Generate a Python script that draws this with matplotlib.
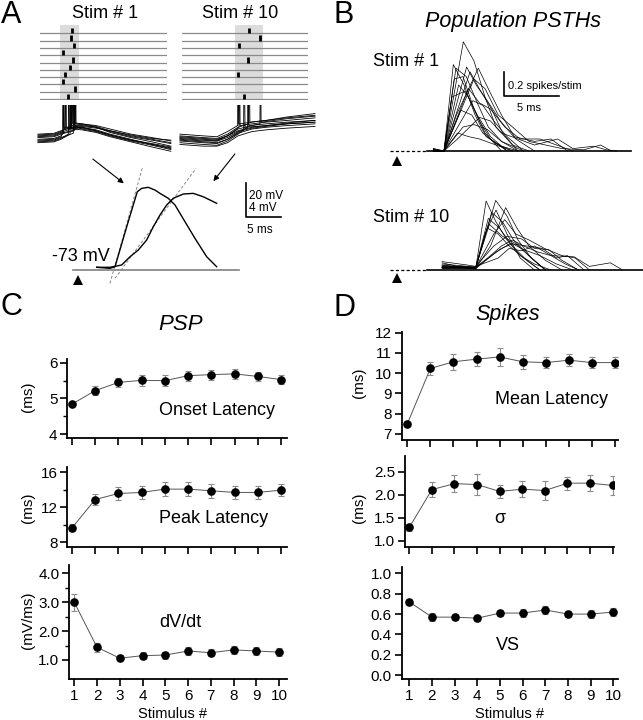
import matplotlib
matplotlib.use("Agg")
from matplotlib import pyplot as plt

plt.rcParams['font.family'] = ['Liberation Sans', 'DejaVu Sans']

W, H = 643, 720

# ---------------- panel C / D : summary vs stimulus number ----------------
stim = [1, 2, 3, 4, 5, 6, 7, 8, 9, 10]
onset_lat = [4.84, 5.22, 5.45, 5.51, 5.50, 5.64, 5.67, 5.69, 5.62, 5.53]
onset_err = [0.06, 0.12, 0.13, 0.16, 0.16, 0.14, 0.14, 0.13, 0.12, 0.12]
peak_lat = [9.62, 12.88, 13.57, 13.69, 14.07, 14.07, 13.88, 13.69, 13.69, 13.95]
peak_err = [0.4, 0.6, 0.7, 0.7, 0.8, 0.8, 0.8, 0.7, 0.7, 0.7]
dvdt = [3.0, 1.44, 1.06, 1.15, 1.17, 1.31, 1.25, 1.35, 1.31, 1.27]
dvdt_err = [0.3, 0.15, 0.1, 0.12, 0.12, 0.13, 0.13, 0.14, 0.15, 0.15]
mean_lat = [7.49, 10.23, 10.56, 10.69, 10.80, 10.56, 10.52, 10.64, 10.52, 10.52]
mean_err = [0.1, 0.33, 0.4, 0.35, 0.43, 0.35, 0.27, 0.3, 0.27, 0.27]
sigma = [1.29, 2.11, 2.24, 2.22, 2.07, 2.12, 2.09, 2.25, 2.25, 2.20]
sigma_err = [0.08, 0.16, 0.18, 0.22, 0.15, 0.17, 0.2, 0.14, 0.18, 0.21]
vs = [0.72, 0.57, 0.57, 0.56, 0.61, 0.61, 0.64, 0.60, 0.60, 0.62]
vs_err = [0.03, 0.04, 0.03, 0.03, 0.03, 0.04, 0.04, 0.03, 0.04, 0.04]

# ---------------- panel A : rasters (spike times, ms) ----------------
raster1_rows = [1, 2, 3, 4, 5, 6, 7, 8, 9, 10]
raster1_t = [4.52, 4.38, 4.86, 3.24, 4.76, 4.29, 3.62, 3.33, 5.0, 4.05]
raster10_rows = [1, 2, 3, 5, 7, 10]
raster10_t = [9.52, 11.14, 8.14, 9.38, 7.95, 8.81]

# raw membrane traces (t ms, Vm mV)
left_traces = [
    ([-0.3, 2, 3, 4.52, 4.57, 4.67, 6, 8, 10, 13, 16, 18.7], [-69, -68.5, -67, -65, 0, -63, -63, -64, -66, -69, -71, -73]),
    ([-0.3, 2, 3, 4.38, 4.43, 4.53, 6, 8, 10, 13, 16, 18.7], [-70, -69.5, -68, -66, 0, -64, -64, -65, -67.5, -70.5, -72.5, -74.5]),
    ([-0.3, 2, 3, 4.86, 4.91, 5.01, 6, 8, 10, 13, 16, 18.7], [-71, -70.5, -69, -67, 0, -63, -63.5, -65, -68, -71, -73.5, -76]),
    ([-0.3, 2, 3, 3.24, 3.29, 3.39, 6, 8, 10, 13, 16, 18.7], [-72, -71.5, -70, -68, 0, -65, -65, -66.5, -69, -72, -75, -77]),
    ([-0.3, 2, 3, 4.76, 4.81, 4.91, 6, 8, 10, 13, 16, 18.7], [-73, -72.5, -71, -68.5, 0, -64, -66, -67.5, -70, -73, -75.5, -78]),
    ([-0.3, 2, 3, 4.29, 4.34, 4.44, 6, 8, 10, 13, 16, 18.7], [-74, -73.5, -72, -69, 0, -66, -66.5, -68, -70.5, -73.5, -76.5, -79]),
    ([-0.3, 2, 3, 3.62, 3.67, 3.77, 6, 8, 10, 13, 16, 18.7], [-69.5, -69, -67.5, -66, 0, -65, -64.5, -65.5, -67, -69.5, -71.5, -72.5]),
    ([-0.3, 2, 3, 3.33, 3.38, 3.48, 6, 8, 10, 13, 16, 18.7], [-72.5, -72, -70.5, -68, 0, -66, -65.5, -67, -69.5, -72.5, -74.5, -76.5]),
    ([-0.3, 2, 3, 5.0, 5.05, 5.15, 6, 8, 10, 13, 16, 18.7], [-70.5, -70, -68.5, -66.5, 0, -62.5, -63, -64.5, -67, -70, -72, -74]),
    ([-0.3, 2, 3, 4.05, 4.1, 4.2, 6, 8, 10, 13, 16, 18.7], [-73.5, -73, -71.5, -69, 0, -65.5, -65, -67, -69.5, -72.5, -75, -77.5]),
]
right_traces = [
    ([-0.3, 3, 5, 6.5, 8, 9.52, 9.57, 9.7, 12, 15, 19], [-70, -71, -71.5, -69, -65, -63, 0, -62, -61, -59, -57]),
    ([-0.3, 3, 5, 6.5, 8, 10, 11.14, 11.19, 11.3, 15, 19], [-71, -72, -72.5, -70, -66, -64, -63, 0, -62, -60, -58.5]),
    ([-0.3, 3, 5, 6.5, 8.14, 8.19, 8.3, 10, 12, 15, 19], [-72, -73, -73, -70, -65, 0, -64, -63, -62, -61, -59.5]),
    ([-0.3, 3, 5, 6.5, 8, 9.38, 9.43, 9.55, 12, 15, 19], [-73, -74, -74.5, -72, -68, -65, 0, -64, -63, -62, -61]),
    ([-0.3, 3, 5, 6.5, 7.95, 8.0, 8.1, 10, 12, 15, 19], [-69, -70, -70.5, -67.5, -64, 0, -63, -62, -61, -59.5, -58]),
    ([-0.3, 3, 5, 6.5, 8, 8.81, 8.86, 9, 12, 15, 19], [-74, -75, -75.5, -73, -69, -66.5, 0, -65, -64, -63, -62]),
    ([-0.3, 3, 5, 6.5, 8, 10, 12, 15, 19], [-70.5, -71.5, -72, -70, -67, -65, -64, -62.5, -61]),
    ([-0.3, 3, 5, 6.5, 8, 10, 12, 15, 19], [-72.5, -73.5, -74, -72, -68.5, -66, -65, -64, -63]),
    ([-0.3, 3, 5, 6.5, 8, 10, 12, 15, 19], [-75, -76, -76, -74, -70, -67.5, -66.5, -65.5, -64.5]),
    ([-0.3, 3, 5, 6.5, 8, 10, 12, 15, 19], [-71.5, -72.5, -73, -71, -67.5, -65.5, -64.5, -63, -62]),
]

# averaged PSPs (t ms from stimulus, mV above -73 mV)
psp1_t = [2.67, 4.57, 5.29, 6.96, 8.47, 9.1, 10.04, 11.0, 11.71, 12.9, 13.86, 15.29, 16.71, 18.39, 19.81]
psp1_v = [0.32, 0.2, 0.39, 5.09, 9.21, 9.61, 9.73, 9.41, 9.02, 8.44, 7.65, 5.68, 3.73, 1.56, 0.39]
psp10_t = [2.67, 4.57, 6.24, 7.43, 8.61, 9.81, 10.76, 11.71, 12.67, 13.61, 15.04, 16.47, 17.9, 19.81]
psp10_v = [0.32, 0.32, 0.59, 1.56, 2.35, 3.53, 5.09, 6.47, 7.65, 8.44, 8.94, 9.02, 8.62, 7.85]
slope1 = ([4.57, 9.24], [-1.57, 12.15])
slope10 = ([5.29, 16.86], [-0.98, 11.96])

# ---------------- panel B : population PSTHs (t ms, spikes/stim) ----------------
psth1 = [
    ([3.3, 4.27, 6.03, 7.0, 8.0, 9.0, 10.5, 12], [0.01, 0, 0.91, 0.75, 0.45, 0.2, 0.05, 0]),
    ([3.3, 4.27, 5.12, 6.1, 7.1, 8.1, 9.5, 11], [0, 0, 0.72, 0.55, 0.3, 0.12, 0.04, 0]),
    ([3.3, 4.27, 5.36, 6.3, 7.3, 8.3, 9.5, 11.5], [0.02, 0, 0.69, 0.62, 0.4, 0.2, 0.08, 0]),
    ([3.3, 4.27, 6.33, 7.2, 8.2, 9.4, 10.6, 12.5, 14, 15.5], [0, 0, 0.70, 0.55, 0.42, 0.25, 0.12, 0.08, 0.1, 0]),
    ([3.3, 4.27, 6.64, 7.6, 8.6, 9.6, 11], [0.01, 0, 0.66, 0.5, 0.35, 0.15, 0]),
    ([3.3, 4.27, 5.4, 7.39, 8.4, 9.5, 10.8, 12.5], [0, 0, 0.3, 0.69, 0.5, 0.3, 0.1, 0]),
    ([3.3, 4.27, 5.6, 6.5, 7.5, 8.5, 10], [0, 0, 0.55, 0.45, 0.25, 0.1, 0]),
    ([3.3, 4.27, 6.5, 7.5, 8.5, 9.8, 11.2, 13, 14.5, 16], [0.02, 0, 0.52, 0.4, 0.35, 0.2, 0.1, 0.1, 0.05, 0]),
    ([3.3, 4.27, 6.9, 7.8, 8.8, 10, 11.5], [0, 0, 0.42, 0.38, 0.25, 0.12, 0]),
    ([3.3, 4.27, 5.8, 6.8, 7.8, 9.0, 10.5], [0.01, 0, 0.34, 0.3, 0.15, 0.06, 0]),
    ([3.3, 4.27, 5.5, 7.5, 8.5, 9.5, 11, 12.5, 14.6, 16, 17.9, 19, 20], [0, 0, 0.1, 0.28, 0.25, 0.15, 0.1, 0.05, 0.1, 0.02, 0.04, 0.01, 0]),
    ([3.3, 4.27, 5.0, 6.2, 7.3, 8.5, 10], [0, 0, 0.45, 0.5, 0.3, 0.12, 0]),
    ([3.3, 4.27, 6.0, 7.0, 8.2, 9.5, 11], [0, 0, 0.2, 0.22, 0.18, 0.08, 0]),
    ([3.3, 4.27, 5.5, 6.5, 7.5, 9, 10.5], [0.01, 0, 0.15, 0.12, 0.1, 0.05, 0]),
    ([3.3, 4.27, 7.0, 8.0, 9.2, 10.5, 12, 13.5, 15, 17, 18.5, 19.5], [0, 0, 0.6, 0.52, 0.3, 0.2, 0.08, 0.05, 0.02, 0.01, 0.05, 0]),
    ([3.3, 4.27, 5.2, 6.0, 7.0, 8.0, 9.5], [0, 0, 0.6, 0.62, 0.35, 0.15, 0]),
]
psth10 = [
    ([4.1, 5.0, 6.0, 7.15, 8.1, 9.0, 10.0, 11.2, 12.5, 14], [0.02, 0.03, 0.02, 0.01, 0.575, 0.4, 0.25, 0.12, 0.05, 0]),
    ([4.1, 5.5, 7.15, 8.97, 10.0, 11.0, 12.2, 13.5], [0.04, 0.03, 0.02, 0.58, 0.45, 0.25, 0.1, 0]),
    ([4.1, 5.5, 7.15, 8.5, 9.88, 10.9, 12.0, 13.5, 15], [0.06, 0.03, 0.01, 0.2, 0.52, 0.35, 0.2, 0.08, 0]),
    ([4.1, 6.0, 7.15, 8.6, 9.6, 10.6, 12, 13.5], [0.01, 0.02, 0.01, 0.48, 0.4, 0.25, 0.12, 0]),
    ([4.1, 6.0, 7.15, 8.3, 9.3, 10.5, 11.8, 13], [0.03, 0.02, 0.02, 0.43, 0.35, 0.2, 0.08, 0]),
    ([4.1, 6.0, 7.15, 8.8, 9.8, 10.8, 12.0, 13.4, 15, 16.2, 17.5], [0.02, 0.01, 0.02, 0.3, 0.42, 0.3, 0.25, 0.18, 0.12, 0.1, 0]),
    ([4.1, 6.5, 7.15, 8.8, 10.0, 11.3, 12.5, 13.8, 15.0, 16.5], [0.07, 0.04, 0.03, 0.2, 0.28, 0.26, 0.18, 0.17, 0.08, 0]),
    ([4.1, 5.5, 7.15, 9.0, 10.3, 11.8, 13.2, 14.5, 15.5, 17], [0.03, 0.02, 0.01, 0.15, 0.22, 0.2, 0.18, 0.1, 0.12, 0]),
    ([4.1, 6.0, 7.15, 8.5, 9.5, 10.5, 11.5, 12.8, 14.0, 16.1, 17.5, 19.4, 20.5], [0.01, 0.03, 0.02, 0.12, 0.2, 0.25, 0.2, 0.15, 0.12, 0.11, 0.03, 0.06, 0]),
    ([4.1, 6.0, 7.15, 8.2, 9.2, 10.2, 11.5, 13], [0.02, 0.01, 0.02, 0.35, 0.3, 0.2, 0.1, 0]),
    ([4.1, 6.5, 7.15, 9.5, 10.5, 11.5, 13, 14.5, 16], [0.05, 0.03, 0.02, 0.18, 0.22, 0.17, 0.12, 0.05, 0]),
    ([4.1, 6.0, 7.15, 8.0, 9.0, 10.0, 11.2, 12.5], [0.02, 0.02, 0.01, 0.3, 0.5, 0.3, 0.1, 0]),
    ([4.1, 6.0, 7.15, 9.2, 10.2, 11.3, 12.5, 14, 15.3, 16.5], [0.04, 0.02, 0.03, 0.1, 0.18, 0.16, 0.2, 0.12, 0.05, 0]),
    ([4.1, 5.5, 7.15, 8.4, 9.6, 10.8, 12.2, 13.5], [0.02, 0.03, 0.02, 0.38, 0.28, 0.22, 0.1, 0]),
]

fig = plt.figure(figsize=(W / 100, H / 100), dpi=100)


def px_axes(x0, y0, x1, y1):
    # axes placed by pixel box (top-left origin)
    ax = fig.add_axes([x0 / W, 1 - y1 / H, (x1 - x0) / W, (y1 - y0) / H])
    ax.patch.set_alpha(0)
    return ax


def ftext(x, y, s, **kw):
    fig.text(x / W, 1 - y / H, s, **kw)


def bare(ax):
    ax.set_axis_off()


# ---------------- A: rasters ----------------
for box, rows, times, shade in [((40, 25, 167, 100), raster1_rows, raster1_t, (2.86, 5.57)),
                                ((182, 25, 308, 100), raster10_rows, raster10_t, (7.57, 11.57))]:
    ax = px_axes(*box)
    bare(ax)
    ax.set_xlim(0, (box[2] - box[0]) / 7)
    ax.set_ylim(10.14, -0.14)
    ax.axvspan(*shade, color='#dcdcdc', lw=0, zorder=0)
    for r in range(1, 11):
        ax.axhline(r, color='#8a8a8a', lw=0.9, zorder=1)
    ax.vlines(times, [r - 0.72 for r in rows], rows, color='black', lw=2.0, zorder=2)

# ---------------- A: raw traces ----------------
for box, traces in [((36, 105, 172, 153), left_traces), ((178, 105, 318, 153), right_traces)]:
    ax = px_axes(*box)
    bare(ax)
    origin = 40 if box[0] < 100 else 182
    ax.set_xlim((box[0] - origin) / 7, (box[2] - origin) / 7)
    ax.set_ylim(-80, -52)
    for t, v in traces:
        ax.plot(t, v, color='black', lw=0.6)

# ---------------- A: averaged PSPs ----------------
ax = px_axes(60, 145, 290, 290)
bare(ax)
ax.set_xlim(-2.57, 30.29)
ax.set_ylim(-2.35, 14.71)
ax.plot([-0.7, 23], [0, 0], color='#808080', lw=1.2)
ax.plot(*slope1, color='#888888', lw=0.7, ls=(0, (3, 2)))
ax.plot(*slope10, color='#888888', lw=0.7, ls=(0, (3, 2)))
ax.plot(psp1_t, psp1_v, color='black', lw=1.0)
ax.plot(psp10_t, psp10_v, color='black', lw=1.0)
ax.plot([0], [-1.18], marker='^', color='black', ms=7, mew=0)
ax.text(4.57, 1.1, '-73 mV', ha='right', va='baseline', fontsize=13)
ax.plot([24, 24, 29], [10.24, 6.24, 6.24], color='black', lw=1.2)
ax.text(24.4, 8.3, '20 mV', fontsize=8.5, va='baseline')
ax.text(24.4, 7.0, '4 mV', fontsize=8.5, va='baseline')
ax.text(24.2, 4.3, '5 ms', fontsize=8.5, va='baseline')
ax.annotate('', xy=(6.86, 10.0), xytext=(1.81, 13.26),
            arrowprops=dict(arrowstyle='-|>', lw=0.8, color='black', mutation_scale=8))
ax.annotate('', xy=(19.1, 10.2), xytext=(22.67, 13.92),
            arrowprops=dict(arrowstyle='-|>', lw=0.8, color='black', mutation_scale=8))

# ---------------- B: PSTHs ----------------
for box, traces, t_end, arrow_y in [((385, 35, 643, 165), psth1, 21.3, -0.083),
                                     ((385, 185, 643, 285), psth10, 22.4, -0.067)]:
    ax = px_axes(*box)
    bare(ax)
    base_px = 151 if box[1] < 100 else 270
    ax.set_xlim((box[0] - 397) / 11, (box[2] - 397) / 11)
    ax.set_ylim((base_px - box[3]) / 120, (base_px - box[1]) / 120)
    ax.plot([-0.6, 2.7], [0, 0], color='black', lw=0.9, ls=(0, (2.5, 1.8)))
    ax.plot([2.7, t_end], [0, 0], color='black', lw=1.2)
    for t, h in traces:
        ax.plot(t, h, color='black', lw=0.5)
    ax.plot([0], [arrow_y], marker='^', color='black', ms=7, mew=0, clip_on=False)
    if box[1] < 100:
        ax.plot([9.75, 9.75, 14.75], [0.66, 0.46, 0.46], color='black', lw=1.2)
        ax.text(10.1, 0.52, '0.2 spikes/stim', fontsize=8, va='baseline')
        ax.text(10.9, 0.33, '5 ms', fontsize=8, va='baseline')

# ---------------- C / D summaries ----------------
def summary(box, xlim, ylim, y, err, yticks, ylabels, minor=None, xlabels=False):
    ax = px_axes(*box)
    ax.errorbar(stim, y, yerr=err, fmt='none', ecolor='#8c8c8c', elinewidth=0.8,
                capsize=2.2, capthick=0.8, zorder=2)
    ax.plot(stim, y, color='#555555', lw=0.7, zorder=3)
    ax.plot(stim, y, 'o', color='black', ms=5.2, zorder=4)
    ax.set_xlim(*xlim)
    ax.set_ylim(*ylim)
    ax.spines['top'].set_visible(False)
    ax.spines['right'].set_visible(False)
    for s in ('left', 'bottom'):
        ax.spines[s].set_linewidth(1.3)
    ax.set_xticks(stim)
    ax.set_xticklabels([str(s) for s in stim] if xlabels else [])
    ax.set_yticks(yticks)
    ax.set_yticklabels(ylabels)
    if minor:
        ax.set_yticks(minor, minor=True)
    ax.tick_params(axis='both', which='major', direction='out', length=5, width=1.2,
                   labelsize=11, pad=2)
    ax.tick_params(axis='y', which='minor', length=3, width=1.0)
    return ax


summary((67.3, 359.3, 287, 438), (0.80, 10.26), (3.89, 6.10), onset_lat, onset_err,
        [4, 5, 6], ['4', '5', '6'], minor=[4.5, 5.5])
summary((67.3, 466.7, 287, 546.7), (0.80, 10.26), (7.47, 16.64), peak_lat, peak_err,
        [8, 12, 16], ['8', '12', '16'], minor=[10, 14])
summary((69, 565, 287, 679.3), (0.77, 10.34), (0.33, 4.29), dvdt, dvdt_err,
        [1, 2, 3, 4], ['1.0', '2.0', '3.0', '4.0'], minor=[1.5, 2.5, 3.5], xlabels=True)
summary((401.7, 332, 617.7, 440), (0.76, 10.11), (6.70, 12.03), mean_lat, mean_err,
        [7, 8, 9, 10, 11, 12], ['7', '8', '9', '10', '11', '12'])
summary((405, 456, 614, 546.7), (0.81, 10.06), (0.87, 2.84), sigma, sigma_err,
        [1.0, 1.5, 2.0, 2.5], ['1.0', '1.5', '2.0', '2.5'])
summary((401.7, 566.7, 617.7, 679.3), (0.665, 10.19), (-0.04, 1.065), vs, vs_err,
        [0, 0.2, 0.4, 0.6, 0.8, 1.0], ['0.0', '0.2', '0.4', '0.6', '0.8', '1.0'], xlabels=True)

# ---------------- texts ----------------
big = dict(fontsize=22, va='baseline')
ftext(1, 23.3, 'A', **big)
ftext(333, 23.3, 'B', **big)
ftext(1, 315, 'C', **big)
ftext(333, 316, 'D', **big)

ftext(105, 18.3, 'Stim # 1', fontsize=13, ha='center', va='baseline')
ftext(240, 18.3, 'Stim # 10', fontsize=13, ha='center', va='baseline')
ftext(513, 26.7, 'Population PSTHs', fontsize=15.5, style='italic', ha='center', va='baseline')
ftext(373, 65.7, 'Stim # 1', fontsize=13, va='baseline')
ftext(373, 221.7, 'Stim # 10', fontsize=13, va='baseline')

ftext(181, 330, 'PSP', fontsize=16, style='italic', ha='center', va='baseline')
ftext(508, 320, 'Spikes', fontsize=15.5, style='italic', ha='center', va='baseline')

ftext(159, 415, 'Onset Latency', fontsize=13, va='baseline')
ftext(159, 522.7, 'Peak Latency', fontsize=13, va='baseline')
ftext(159, 626.7, 'dV/dt', fontsize=13, va='baseline')
ftext(495, 404, 'Mean Latency', fontsize=13, va='baseline')
ftext(494, 522.7, 'σ', fontsize=13, va='baseline')
ftext(495.7, 650, 'VS', fontsize=13, va='baseline')

ylab = dict(fontsize=11, rotation=90, ha='center', va='center')
ftext(28, 397, '(ms)', **ylab)
ftext(28, 508, '(ms)', **ylab)
ftext(28, 620, '(mV/ms)', **ylab)
ftext(359, 383, '(ms)', **ylab)
ftext(359, 508, '(ms)', **ylab)

ftext(172, 718, 'Stimulus #', fontsize=10.5, ha='center', va='baseline')
ftext(509, 718, 'Stimulus #', fontsize=10.5, ha='center', va='baseline')

fig.savefig('out.png', dpi=100)
